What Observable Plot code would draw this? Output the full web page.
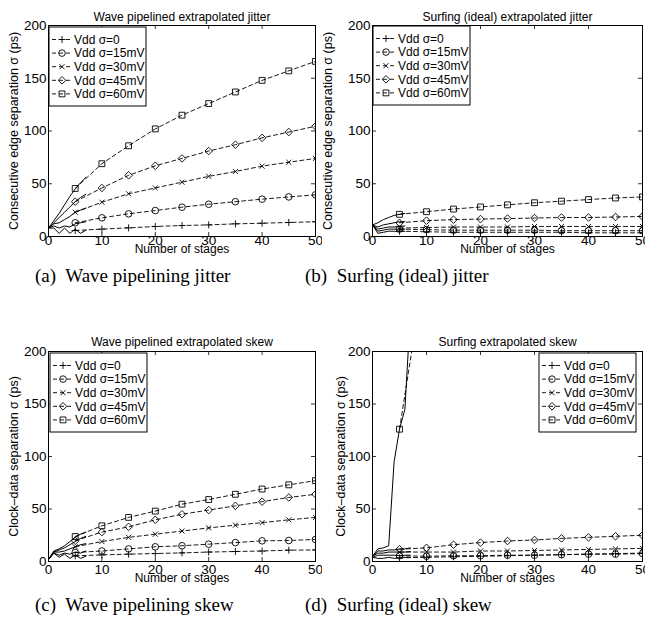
<!DOCTYPE html>
<html><head><meta charset="utf-8">
<script src="https://cdn.jsdelivr.net/npm/d3@7"></script>
<script src="https://cdn.jsdelivr.net/npm/@observablehq/plot@0.6"></script>
<style>
body{margin:0;background:#fff;}
#wrap{position:relative;width:645px;height:627px;overflow:hidden;background:#fff;font-family:"Liberation Sans",Arial,sans-serif;color:#000;}
.panel{position:absolute;}
.cap{position:absolute;font-family:"Liberation Serif","Times New Roman",serif;font-size:19px;white-space:pre;color:#000;line-height:1;}
</style></head><body><div id="wrap"></div>
<script>
// ---------- data ----------
const seriesNames = ["Vdd \u03c3=0", "Vdd \u03c3=15mV", "Vdd \u03c3=30mV", "Vdd \u03c3=45mV", "Vdd \u03c3=60mV"];
const symbols = ["plus", "circle", "times", "diamond2", "square"];
const simStages = [0, 1, 2, 3, 4, 5, 6, 7];
const extStages = [5, 10, 15, 20, 25, 30, 35, 40, 45, 50];
const xTicks = [0, 10, 20, 30, 40, 50];
const yTicks = [0, 50, 100, 150, 200];
const xLabel = "Number of stages";

const titles = ["Wave pipelined extrapolated jitter", "Surfing (ideal) extrapolated jitter",
                "Wave pipelined extrapolated skew", "Surfing extrapolated skew"];
const yLabels = ["Consecutive edge separation \u03c3 (ps)", "Consecutive edge separation \u03c3 (ps)",
                 "Clock\u2013data separation \u03c3 (ps)", "Clock\u2013data separation \u03c3 (ps)"];
const captions = ["(a)  Wave pipelining jitter", "(b)  Surfing (ideal) jitter",
                  "(c)  Wave pipelining skew", "(d)  Surfing (ideal) skew"];

// (a) wave pipelined jitter
const waveJitterSim = [
  [8, 8, 3, 8, 3, 7, 3, 6],
  [8, 10, 8, 10, 9, 12, 13, 14],
  [8, 12, 13, 16, 19, 23, 25, 27],
  [8, 13, 18, 23, 28, 33, 37, 40],
  [8, 15, 22, 30, 38, 45, 51, 56]
];
const waveJitterExt = [
  [5.7, 7, 8.2, 9.5, 10.4, 11, 12, 12.6, 13.3, 14],
  [13, 17.7, 21.5, 24.6, 27.8, 30.6, 33, 35.4, 37.5, 39.5],
  [23, 32.5, 40.5, 46, 51.5, 57, 61.6, 66.7, 70.4, 74],
  [33, 46, 58, 67, 74, 81, 87, 93.5, 99, 104.5],
  [45.5, 69, 86, 102, 115, 126, 137, 148, 157, 166]
];
// (b) surfing jitter
const surfJitterSim = [
  [11, 3, 4, 5, 5, 5, 5],
  [11, 5, 6, 7, 7, 7, 7],
  [11, 7, 8, 9, 9, 9.5, 10],
  [11, 9, 11, 12, 13, 14, 14],
  [11, 13, 16, 18, 20, 21, 22]
];
const surfJitterExt = [
  [5, 4.5, 4, 4, 4, 4, 4, 3.5, 3.5, 3.5],
  [7, 6.5, 6, 6, 6, 6, 5.5, 5.5, 5.5, 5.5],
  [8, 8.5, 9, 9, 9, 9.5, 9.5, 9.5, 9.5, 9.5],
  [13, 15, 16, 16.5, 17, 17.5, 18, 18, 18.5, 19],
  [21, 23.5, 26, 28, 30, 32, 33.5, 35, 36.5, 37.5]
];
// (c) wave pipelined skew
const waveSkewSim = [
  [2, 8, 4, 7, 3, 6, 3, 5],
  [2, 8, 6, 8, 7, 9, 8, 10],
  [2, 9, 9, 10, 12, 14, 16, 17],
  [2, 9, 11, 13, 16, 19, 22, 24],
  [2, 10, 12, 15, 19, 23, 26, 28]
];
const waveSkewExt = [
  [5.4, 6.3, 7, 7.6, 8.2, 9, 9.5, 10, 10.8, 11],
  [8.6, 10, 12, 14, 15, 16.5, 18, 19.7, 20, 21],
  [14, 19, 23, 26, 29, 32, 34.6, 37, 39.7, 42],
  [19.7, 28, 33, 39.7, 45, 49, 53, 57, 61, 64],
  [23.8, 34, 42, 48, 54.6, 59, 64, 69, 73, 77]
];
// (d) surfing skew
const surfSkewSim = [
  [4, 3, 3, 4, 3, 3.5, 4, 4],
  [4, 6, 6, 6, 6, 5.5, 6, 6],
  [5, 8, 8, 9, 9, 9, 9, 9.5],
  [5, 10, 10, 11, 11, 12, 12, 13],
  [5, 12, 13, 15, 95, 126, 145, 235]
];
const surfSkewExt = [
  [3.5, 4, 4.5, 5, 5.5, 6, 6.5, 7, 7.5, 8],
  [5.5, 5, 5.5, 5.5, 6, 6, 6.5, 7, 7, 7.5],
  [9, 9, 9, 10, 10, 10.5, 11, 11.5, 12, 12.5],
  [11.7, 13, 16, 18, 19.5, 20.5, 22, 23, 24, 25],
  [126, 290]
];

// ---------- styles / layout ----------
const symR = [2.4, 3.3, 2.4, 3.4, 3.3];
const d3Sym = {plus: d3.symbolPlus, circle: d3.symbolCircle, times: d3.symbolTimes, diamond2: d3.symbolDiamond2, square: d3.symbolSquare};

const panels = [
  {left: 0, top: 0, w: 322, h: 262, mL: 48, mT: 25, mR: 7, mB: 26, sim: waveJitterSim, ext: waveJitterExt,
   yDx: 35, titleDy: -13, xPad: -1, xLabDy: 16, legend: "left", legX: 1, legY: 2},
  {left: 322, top: 0, w: 323, h: 262, mL: 50, mT: 25, mR: 3, mB: 26, sim: surfJitterSim, ext: surfJitterExt,
   yDx: 45, titleDy: -13, xPad: -1, xLabDy: 16, legend: "left", legX: 1, legY: 1},
  {left: 0, top: 326, w: 322, h: 262, mL: 48, mT: 25, mR: 7, mB: 27, sim: waveSkewSim, ext: waveSkewExt,
   yDx: 35, titleDy: -14, xPad: 3, xLabDy: 20, legend: "left", legX: 2, legY: 2},
  {left: 322, top: 326, w: 323, h: 262, mL: 50, mT: 25, mR: 3, mB: 27, sim: surfSkewSim, ext: surfSkewExt,
   yDx: 32, titleDy: -14, xPad: 3, xLabDy: 20, legend: "right", legX: 6, legY: 2}
];
const capPos = [[35, 266], [305, 266], [35, 595], [305, 595]];

const wrap = document.getElementById("wrap");

panels.forEach((p, k) => {
  const fw = p.w - p.mL - p.mR, fh = p.h - p.mT - p.mB;
  const marks = [
    Plot.tickX(xTicks, {x: d => d, insetTop: fh - 4, stroke: "black", strokeWidth: 0.8}),
    Plot.tickX(xTicks, {x: d => d, insetBottom: fh - 4, stroke: "black", strokeWidth: 0.8}),
    Plot.tickY(yTicks, {y: d => d, insetRight: fw - 4, stroke: "black", strokeWidth: 0.8}),
    Plot.tickY(yTicks, {y: d => d, insetLeft: fw - 4, stroke: "black", strokeWidth: 0.8}),
    Plot.axisX({ticks: xTicks, tickSize: 0, tickPadding: p.xPad, label: null, fontSize: 13.5}),
    Plot.axisY({ticks: yTicks, tickSize: 0, tickPadding: 2, label: null, fontSize: 13.5})
  ];
  p.sim.forEach(vals => {
    const data = vals.map((v, j) => ({x: simStages[j], y: v}));
    marks.push(Plot.line(data, {x: "x", y: "y", stroke: "black", strokeWidth: 1, clip: true}));
  });
  p.ext.forEach((vals, i) => {
    const data = vals.map((v, j) => ({x: extStages[j], y: v}));
    marks.push(Plot.line(data, {x: "x", y: "y", stroke: "black", strokeWidth: 0.9, strokeDasharray: "4,3", clip: true}));
    marks.push(Plot.dot(data, {x: "x", y: "y", symbol: symbols[i], r: symR[i], stroke: "black", fill: "none", strokeWidth: 0.9, clip: true}));
  });
  marks.push(Plot.frame({stroke: "black", strokeWidth: 1}));
  marks.push(Plot.text([titles[k]], {text: d => d, frameAnchor: "top", dy: p.titleDy, fontSize: 12}));
  marks.push(Plot.text([xLabel], {text: d => d, frameAnchor: "bottom", dy: p.xLabDy, fontSize: 12}));
  marks.push(Plot.text([yLabels[k]], {text: d => d, frameAnchor: "left", dx: -p.yDx, rotate: -90, textAnchor: "middle", fontSize: 12.5}));

  const svg = Plot.plot({
    width: p.w, height: p.h,
    marginLeft: p.mL, marginTop: p.mT, marginRight: p.mR, marginBottom: p.mB,
    x: {domain: [0, 50]}, y: {domain: [0, 200]},
    style: {fontFamily: "'Liberation Sans', Arial, sans-serif", color: "black", background: "white", overflow: "visible"},
    marks
  });

  // legend (drawn inside the axes box, MATLAB style)
  const lw = 97, lh = 79;
  const lx = p.legend === "left" ? p.mL + p.legX : p.w - p.mR - p.legX - lw;
  const ly = p.mT + p.legY;
  const g = d3.select(svg).append("g").attr("transform", `translate(${lx},${ly})`);
  g.append("rect").attr("width", lw).attr("height", lh).attr("fill", "white").attr("stroke", "black").attr("stroke-width", 1);
  seriesNames.forEach((name, i) => {
    const yy = 12.5 + i * 13.6;
    g.append("line").attr("x1", 3).attr("x2", 23).attr("y1", yy).attr("y2", yy)
      .attr("stroke", "black").attr("stroke-width", 0.9).attr("stroke-dasharray", "4,3");
    g.append("path").attr("d", d3.symbol(d3Sym[symbols[i]], Math.PI * symR[i] * symR[i])())
      .attr("transform", `translate(13,${yy})`).attr("fill", "none").attr("stroke", "black").attr("stroke-width", 0.9);
    g.append("text").attr("x", 25).attr("y", yy).attr("dy", "0.35em").attr("font-size", 12)
      .attr("text-anchor", "start").attr("fill", "black").text(name);
  });

  svg.classList.add("panel");
  svg.style.left = p.left + "px";
  svg.style.top = p.top + "px";
  svg.style.position = "absolute";
  wrap.appendChild(svg);

  const cap = document.createElement("div");
  cap.className = "cap";
  cap.style.left = capPos[k][0] + "px";
  cap.style.top = capPos[k][1] + "px";
  cap.textContent = captions[k];
  wrap.appendChild(cap);
});
</script></body></html>
